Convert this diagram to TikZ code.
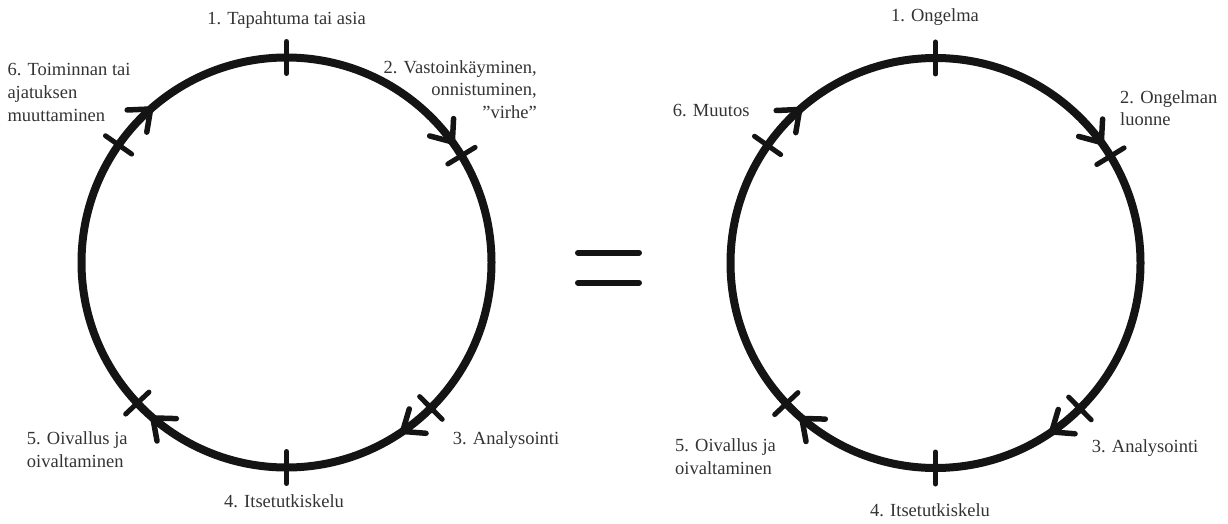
\documentclass[tikz,border=0pt]{standalone}
\usepackage{fontspec}
\setmainfont{Liberation Serif}
\definecolor{ink}{HTML}{141414}
\definecolor{txt}{HTML}{333333}
\tikzset{
  ring/.style={draw=ink,line width=8pt},
  tickmark/.style={draw=ink,line width=5pt,line cap=round},
  barb/.style={draw=ink,line width=5.5pt,line cap=round,line join=round},
  eqline/.style={draw=ink,line width=6pt,line cap=round},
  lbl/.style={inner sep=0pt,text=txt,font=\fontsize{18.5}{22.8}\selectfont},
}
\begin{document}
\begin{tikzpicture}[x=1pt,y=1pt]
\useasboundingbox (0,0) rectangle (1228,523);
\coordinate (CL) at (286.5,260.5);
\coordinate (CR) at (935.5,260);
% circles
\foreach \c in {CL,CR}{
  \draw[ring] (\c) circle (205);
  \foreach \a in {90,31.4,-45.2,-90,-136.7,145}
    \draw[tickmark,shift={(\c)}] (\a:189) -- (\a:221);
  \foreach \a in {36,-55.5,-130.7,131.5}
    \draw[barb,shift={(\c)}] (\a:205) ++(\a+129:23.5) -- (\a:205) -- ++(\a+51:23.5);
}
% equals sign
\coordinate (E1) at (578,270.3);
\coordinate (E2) at (639,270.3);
\coordinate (E3) at (578,240.3);
\coordinate (E4) at (639,240.3);
\draw[eqline] (E1) -- (E2);
\draw[eqline] (E3) -- (E4);
% left labels
\node[lbl,anchor=base] (l1) at (286.5,498.5) {1. Tapahtuma tai asia};
\node[lbl,anchor=north east,align=right] (l2) at (537,463) {2. Vastoinkäyminen,\\onnistuminen,\\”virhe”};
\node[lbl,anchor=base west] (l3) at (452.7,78.5) {3. Analysointi};
\node[lbl,anchor=base west] (l4) at (224,15.2) {4. Itsetutkiskelu};
\node[lbl,anchor=north west,align=left] (l5) at (26.7,91.3) {5. Oivallus ja\\oivaltaminen};
\node[lbl,anchor=north west,align=left] (l6) at (7.3,459.6) {6. Toiminnan tai\\ajatuksen\\muuttaminen};
% right labels
\node[lbl,anchor=base] (r1) at (935,501.8) {1. Ongelma};
\node[lbl,anchor=north west,align=left] (r2) at (1120,433) {2. Ongelman\\luonne};
\node[lbl,anchor=base west] (r3) at (1091.7,70.2) {3. Analysointi};
\node[lbl,anchor=base west] (r4) at (870,6.8) {4. Itsetutkiskelu};
\node[lbl,anchor=north west,align=left] (r5) at (675,84.6) {5. Oivallus ja\\oivaltaminen};
\node[lbl,anchor=base west] (r6) at (672.7,406.8) {6. Muutos};
\end{tikzpicture}
\end{document}
